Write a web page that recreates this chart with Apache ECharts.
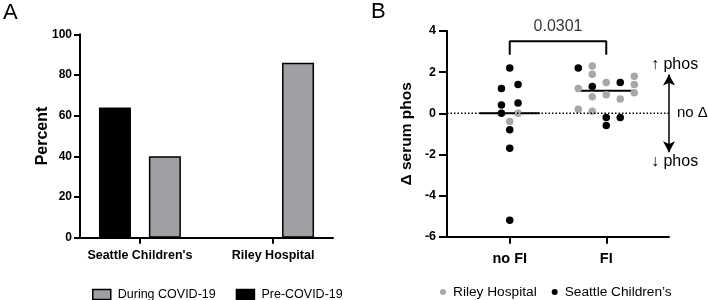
<!DOCTYPE html>
<html>
<head>
<meta charset="utf-8">
<script src="https://cdn.jsdelivr.net/npm/echarts@6/dist/echarts.min.js"></script>
<style>html,body{margin:0;padding:0;background:#fff;}#c{width:708px;height:300px;}</style>
</head>
<body>
<div id="c"></div>
<script>
// ---- Panel A data ----
const aCategories = ["Seattle Children's", 'Riley Hospital'];
const aPre = [64, 0];
const aDuring = [40, 86];
// ---- Panel B data ----
const bCategories = ['no FI', 'FI'];
const rileyNoFI = [0, -0.4];
const rileyNoFIOff = [0.086, 0];
const rileyFI = [2.3, 1.9, 1.2, 0.8, 0.2, 0.1, 1.5, 0.9, 0.7, 1.8, 1.4, 1.0];
const rileyFIOff = [-0.145, -0.145, -0.29, -0.145, -0.29, -0.145, 0, 0, 0.145, 0.29, 0.29, 0.29];
const seattleNoFI = [2.2, 1.2, 1.4, 0.4, 0.5, 0, -0.8, -1.7, -5.2];
const seattleNoFIOff = [0, -0.086, 0.086, -0.086, 0.086, -0.086, 0, 0, 0];
const seattleFI = [2.2, 1.3, 1.5, -0.2, -0.6, -0.2];
const seattleFIOff = [-0.29, -0.145, 0.145, 0, 0, 0.145];
const medians = [0, 1.1];
const pValue = '0.0301';

const FONT = '"Liberation Sans", Arial, sans-serif';
const GREY_BAR = '#a0a0a4';
const GREY_DOT = '#a8a8a8';

function pts(group, vals, offs) {
  return vals.map((v, i) => [group + offs[i], v]);
}
const rileyData = pts(0, rileyNoFI, rileyNoFIOff).concat(pts(1, rileyFI, rileyFIOff));
const seattleData = pts(0, seattleNoFI, seattleNoFIOff).concat(pts(1, seattleFI, seattleFIOff));

const axisLineStyle = { color: '#000', width: 2 };

const chart = echarts.init(document.getElementById('c'), null, { renderer: 'canvas' });
chart.setOption({
  animation: false,
  backgroundColor: '#fff',
  textStyle: { fontFamily: FONT },
  grid: [
    { left: 80, right: 375, top: 34.3, bottom: 62.3 },
    { left: 447, right: 39, top: 31, bottom: 63.3 }
  ],
  xAxis: [
    {
      gridIndex: 0, type: 'value', min: -0.45, max: 1.45,
      splitLine: { show: false },
      axisLine: { show: true, onZero: false, lineStyle: axisLineStyle },
      axisTick: { show: true, length: 6, lineStyle: axisLineStyle, customValues: [0, 1] },
      axisLabel: {
        customValues: [0, 1], margin: 11,
        formatter: v => aCategories[Math.round(v)],
        color: '#000', fontWeight: 'bold', fontSize: 12.5, fontFamily: FONT
      }
    },
    {
      gridIndex: 1, type: 'value', min: -0.65, max: 1.65,
      splitLine: { show: false },
      axisLine: { show: true, onZero: false, lineStyle: axisLineStyle },
      axisTick: { show: true, length: 7, lineStyle: axisLineStyle, customValues: [0, 1] },
      axisLabel: {
        customValues: [0, 1], margin: 15,
        formatter: v => bCategories[Math.round(v)],
        color: '#000', fontWeight: 'bold', fontSize: 14.5, fontFamily: FONT
      }
    }
  ],
  yAxis: [
    {
      gridIndex: 0, type: 'value', min: 0, max: 100, interval: 20,
      name: 'Percent', nameLocation: 'middle', nameGap: 29, nameMoveOverlap: false,
      nameTextStyle: { color: '#000', fontWeight: 'bold', fontSize: 16, fontFamily: FONT },
      splitLine: { show: false },
      axisLine: { show: true, onZero: false, lineStyle: axisLineStyle },
      axisTick: { show: true, length: 6, lineStyle: axisLineStyle },
      axisLabel: { color: '#000', fontWeight: 'bold', fontSize: 12, margin: 8, fontFamily: FONT }
    },
    {
      gridIndex: 1, type: 'value', min: -6, max: 4, interval: 2,
      name: 'Δ serum phos', nameLocation: 'middle', nameGap: 32, nameMoveOverlap: false,
      nameTextStyle: { color: '#000', fontWeight: 'bold', fontSize: 15.5, fontFamily: FONT },
      splitLine: { show: false },
      axisLine: { show: true, onZero: false, lineStyle: axisLineStyle },
      axisTick: { show: true, length: 8, lineStyle: axisLineStyle },
      axisLabel: { color: '#000', fontWeight: 'bold', fontSize: 12.5, margin: 11, fontFamily: FONT }
    }
  ],
  legend: [
    {
      left: 87, top: 283, itemWidth: 18, itemHeight: 10, itemGap: 20,
      icon: 'rect',
      textStyle: { color: '#000', fontSize: 12.5, fontFamily: FONT, padding: [0, 0, 0, 2] },
      data: [
        { name: 'During COVID-19', itemStyle: { color: GREY_BAR, borderColor: '#000', borderWidth: 1.5 } },
        { name: 'Pre-COVID-19', itemStyle: { color: '#000', borderColor: '#000', borderWidth: 1.5 } }
      ]
    },
    {
      left: 435, top: 280, itemWidth: 6, itemHeight: 6, itemGap: 15,
      icon: 'circle',
      textStyle: { color: '#000', fontSize: 13.7, fontFamily: FONT, padding: [0, 0, 0, 2] },
      data: [
        { name: 'Riley Hospital', itemStyle: { color: GREY_DOT, opacity: 1 } },
        { name: 'Seattle Children’s', itemStyle: { color: '#000', opacity: 1 } }
      ]
    }
  ],
  series: [
    {
      name: 'Pre-COVID-19', type: 'bar', xAxisIndex: 0, yAxisIndex: 0,
      barWidth: 32, barGap: '56%',
      itemStyle: { color: '#000', borderColor: '#000', borderWidth: 1.5 },
      data: aPre.map((v, i) => [i, v])
    },
    {
      name: 'During COVID-19', type: 'bar', xAxisIndex: 0, yAxisIndex: 0,
      barWidth: 32, barGap: '56%',
      itemStyle: { color: GREY_BAR, borderColor: '#000', borderWidth: 1.5 },
      data: aDuring.map((v, i) => [i, v])
    },
    {
      name: 'zero', type: 'line', xAxisIndex: 1, yAxisIndex: 1, clip: false,
      symbol: 'none', silent: true,
      lineStyle: { color: '#000', width: 1.5, type: [1.5, 2] },
      data: [[-0.65, 0], [1.69, 0]],
      markLine: {
        silent: true, symbol: ['arrow', 'arrow'], symbolSize: [9, 11],
        label: { show: false },
        lineStyle: { color: '#000', width: 1.5, type: 'solid' },
        data: [[{ coord: [1.65, 1.88] }, { coord: [1.65, -1.9] }]]
      }
    },
    {
      name: 'bracket', type: 'line', xAxisIndex: 1, yAxisIndex: 1, clip: false,
      symbol: 'none', silent: true,
      lineStyle: { color: '#000', width: 2 },
      data: [[0, 2.85], [0, 3.5], [1, 3.5], [1, 2.85]]
    },
    {
      name: 'pval', type: 'scatter', xAxisIndex: 1, yAxisIndex: 1, clip: false,
      symbolSize: 0, silent: true,
      label: { show: true, position: 'top', distance: 7, formatter: pValue,
        color: '#000', fontSize: 16, fontFamily: FONT },
      data: [[0.5, 3.5]]
    },
    {
      name: 'Riley Hospital', type: 'scatter', xAxisIndex: 1, yAxisIndex: 1,
      symbol: 'circle', symbolSize: 7.5,
      itemStyle: { color: GREY_DOT, opacity: 1 },
      data: rileyData
    },
    {
      name: 'Seattle Children’s', type: 'scatter', xAxisIndex: 1, yAxisIndex: 1,
      symbol: 'circle', symbolSize: 7.5,
      itemStyle: { color: '#000', opacity: 1 },
      data: seattleData
    },
    {
      name: 'median', type: 'custom', xAxisIndex: 1, yAxisIndex: 1, silent: true,
      data: medians.map((v, i) => [i, v]),
      renderItem: function (params, api) {
        const x = api.value(0), y = api.value(1);
        const p1 = api.coord([x - 0.31, y]);
        const p2 = api.coord([x + 0.31, y]);
        return { type: 'line', shape: { x1: p1[0], y1: p1[1], x2: p2[0], y2: p2[1] },
          style: { stroke: '#000', lineWidth: 2 } };
      }
    }
  ],
  graphic: [
    { type: 'text', left: 3, top: 2, style: { text: 'A', fontSize: 22, fontFamily: FONT, fill: '#000' } },
    { type: 'text', left: 371, top: 1, style: { text: 'B', fontSize: 22, fontFamily: FONT, fill: '#000' } },
    { type: 'text', x: 651, y: 65, style: { text: '↑ phos', fontSize: 16, fontFamily: FONT, fill: '#000', verticalAlign: 'middle' } },
    { type: 'text', x: 677, y: 113, style: { text: 'no Δ', fontSize: 15, fontFamily: FONT, fill: '#000', verticalAlign: 'middle' } },
    { type: 'text', x: 651, y: 162, style: { text: '↓ phos', fontSize: 16, fontFamily: FONT, fill: '#000', verticalAlign: 'middle' } }
  ]
});
</script>
</body>
</html>
